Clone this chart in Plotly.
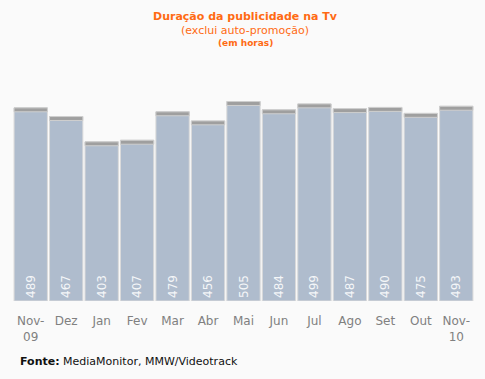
import plotly.graph_objects as go

months = ["Nov-<br>09", "Dez", "Jan", "Fev", "Mar", "Abr", "Mai", "Jun", "Jul", "Ago", "Set", "Out", "Nov-<br>10"]
hours = [489, 467, 403, 407, 479, 456, 505, 484, 499, 487, 490, 475, 493]
cap = 10

W, HT = 485, 379
ML, MR, MT, MB = 13, 11, 64, 78
PW, PH = W - ML - MR, HT - MT - MB

def xpix(p):
    return (p - ML) / PW

def ypix(p):
    return (HT - MB - p) / PH

fig = go.Figure()
fig.add_trace(go.Bar(
    x=months, y=hours,
    marker=dict(color="#afbccd", line=dict(color="#dadada", width=1)),
    text=[str(v) for v in hours],
    textposition="inside", insidetextanchor="start", textangle=-90,
    textfont=dict(family="DejaVu Sans", size=12, color="#f4f6f8"),
    hoverinfo="skip",
))
fig.add_trace(go.Bar(
    x=months, y=[cap] * len(hours), base=[v - cap for v in hours],
    marker=dict(color="#9f9f9f", line=dict(color="#cfcfcf", width=1)),
    hoverinfo="skip",
))

fig.update_layout(
    width=W, height=HT,
    margin=dict(l=ML, r=MR, t=MT, b=MB),
    paper_bgcolor="#fafafa", plot_bgcolor="#fafafa",
    barmode="overlay", bargap=0.06, showlegend=False,
    xaxis=dict(showgrid=False, zeroline=False, showline=False,
               ticks="outside", ticklen=9, tickcolor="rgba(0,0,0,0)",
               tickfont=dict(family="DejaVu Sans", size=12, color="#808080")),
    yaxis=dict(range=[0, 600], visible=False),
)

orange = "#ff6a13"
fig.add_annotation(text="<b>Duração da publicidade na Tv</b>", x=xpix(245), y=ypix(17), xref="paper", yref="paper",
                   showarrow=False, font=dict(family="DejaVu Sans", size=11, color=orange), yanchor="middle")
fig.add_annotation(text="(exclui auto-promoção)", x=xpix(245), y=ypix(31), xref="paper", yref="paper",
                   showarrow=False, font=dict(family="DejaVu Sans", size=11, color=orange), yanchor="middle")
fig.add_annotation(text="<b>(em horas)</b>", x=xpix(245), y=ypix(43), xref="paper", yref="paper",
                   showarrow=False, font=dict(family="DejaVu Sans", size=9, color=orange), yanchor="middle")
fig.add_annotation(text="<b>Fonte:</b> MediaMonitor, MMW/Videotrack", x=xpix(18), y=ypix(361), xref="paper", yref="paper",
                   xanchor="left", showarrow=False, font=dict(family="DejaVu Sans", size=11, color="#111111"), yanchor="middle")

fig.write_html("out.html", config={"displayModeBar": False},
               post_script="document.body.style.margin='0';document.body.style.background='#fafafa';")
